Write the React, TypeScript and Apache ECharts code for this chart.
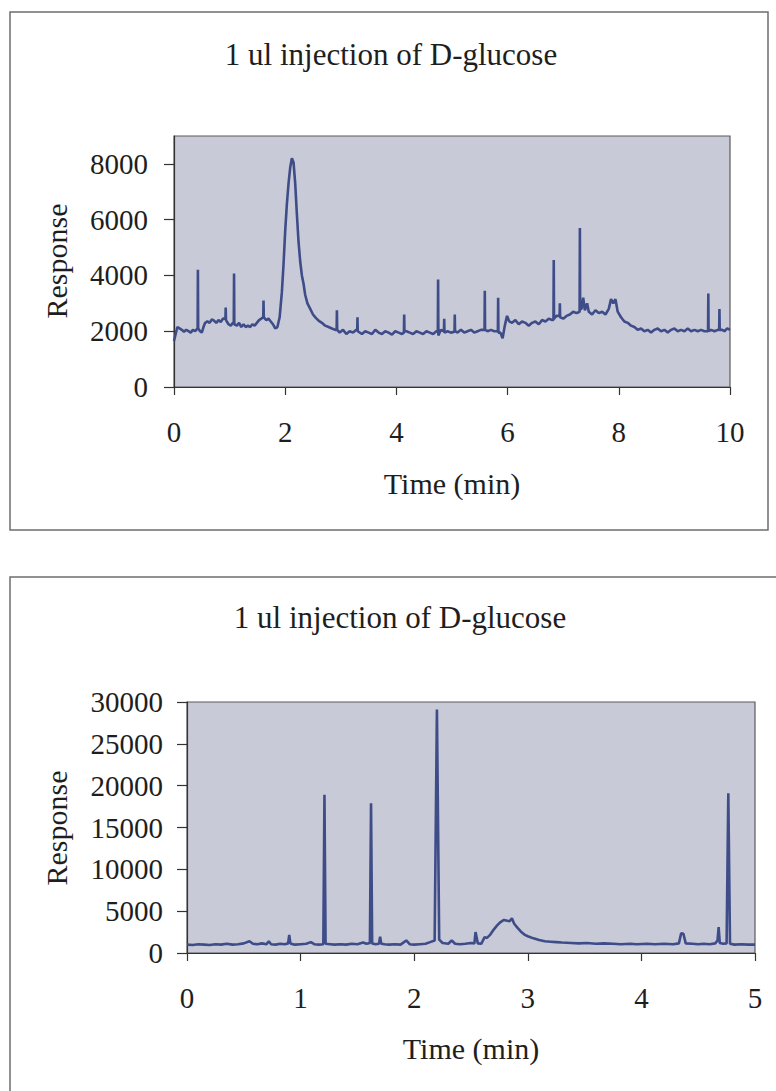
import React, { useEffect, useRef } from "react";
import * as echarts from "echarts";

// ---------- Data ----------
const chartTitle = "1 ul injection of D-glucose";
const xAxisName = "Time (min)";
const yAxisName = "Response";

// Top chart: 0–10 min
const topTicksX = [0, 2, 4, 6, 8, 10];
const topTicksY = [0, 2000, 4000, 6000, 8000];
const topTime = [
  0.0, 0.03, 0.06, 0.1, 0.14, 0.18, 0.22, 0.26, 0.3, 0.34, 0.38, 0.425, 0.43, 0.435, 0.47, 0.5, 0.53, 0.56, 0.6, 0.64,
  0.68, 0.72, 0.76, 0.8, 0.84, 0.88, 0.925, 0.93, 0.935, 0.98, 1.02, 1.06, 1.075, 1.08, 1.085, 1.13, 1.17, 1.21, 1.25, 1.29,
  1.33, 1.37, 1.41, 1.45, 1.49, 1.53, 1.57, 1.605, 1.61, 1.615, 1.66, 1.7, 1.74, 1.78, 1.82, 1.86, 1.9, 1.94, 1.97, 2.0,
  2.03, 2.06, 2.09, 2.12, 2.15, 2.18, 2.21, 2.24, 2.27, 2.3, 2.33, 2.36, 2.4, 2.45, 2.5, 2.55, 2.6, 2.66, 2.72, 2.78,
  2.84, 2.9, 2.925, 2.93, 2.935, 2.98, 3.04, 3.1, 3.16, 3.22, 3.28, 3.295, 3.3, 3.305, 3.38, 3.44, 3.5, 3.56, 3.62, 3.68,
  3.74, 3.8, 3.86, 3.92, 3.98, 4.04, 4.1, 4.135, 4.14, 4.145, 4.18, 4.24, 4.3, 4.36, 4.42, 4.48, 4.54, 4.6, 4.66, 4.72,
  4.745, 4.75, 4.755, 4.8, 4.855, 4.86, 4.865, 4.92, 4.98, 5.045, 5.05, 5.055, 5.1, 5.16, 5.22, 5.28, 5.34, 5.4, 5.46, 5.52,
  5.585, 5.59, 5.595, 5.64, 5.7, 5.76, 5.825, 5.83, 5.835, 5.87, 5.91, 5.95, 5.99, 6.03, 6.08, 6.14, 6.2, 6.26, 6.32, 6.38,
  6.44, 6.5, 6.56, 6.62, 6.68, 6.74, 6.8, 6.825, 6.83, 6.835, 6.88, 6.935, 6.94, 6.945, 7.0, 7.06, 7.12, 7.18, 7.24, 7.295,
  7.3, 7.305, 7.33, 7.36, 7.39, 7.43, 7.46, 7.52, 7.58, 7.64, 7.7, 7.76, 7.82, 7.86, 7.9, 7.94, 7.98, 8.04, 8.1, 8.16,
  8.22, 8.28, 8.34, 8.4, 8.46, 8.52, 8.58, 8.64, 8.7, 8.76, 8.82, 8.88, 8.94, 9.0, 9.06, 9.12, 9.18, 9.24, 9.3, 9.36,
  9.42, 9.48, 9.54, 9.605, 9.61, 9.615, 9.66, 9.72, 9.78, 9.805, 9.81, 9.815, 9.86, 9.9, 9.95, 10.0,
];
const topResponse = [
  1650, 1900, 2150, 2100, 2050, 1980, 2050, 2000, 1950, 2050, 2000, 2100, 4200, 2100, 2000, 1950, 2150, 2300, 2350, 2300,
  2420, 2380, 2300, 2400, 2330, 2450, 2450, 2850, 2400, 2250, 2200, 2300, 2300, 4070, 2250, 2200, 2300, 2150, 2250, 2150,
  2200, 2150, 2250, 2200, 2300, 2400, 2450, 2500, 3100, 2500, 2400, 2450, 2350, 2250, 2100, 2150, 2500, 3400, 4400, 5600,
  6560, 7300, 7870, 8200, 8050, 7300, 6200, 5200, 4500, 4000, 3700, 3300, 3000, 2800, 2600, 2480, 2380, 2300, 2200, 2150,
  2100, 2050, 2050, 2750, 2050, 1950, 2050, 1900, 2000, 1950, 2050, 2050, 2500, 2000, 1900, 2000, 1950, 1900, 2050, 1950,
  1900, 2000, 1950, 1880, 2000, 1950, 1900, 1950, 2600, 2000, 2000, 1950, 1900, 2000, 1950, 1900, 2000, 1950, 1900, 2000,
  2000, 3850, 1850, 2050, 2000, 2450, 1950, 2000, 1950, 1980, 2600, 2000, 1950, 2050, 1950, 2000, 2050, 1950, 2000, 2050,
  2050, 3450, 2050, 2000, 2050, 2000, 2000, 3200, 1950, 1950, 1750, 2200, 2550, 2350, 2300, 2400, 2250, 2350, 2300, 2200,
  2300, 2350, 2250, 2400, 2350, 2450, 2400, 2400, 4550, 2450, 2550, 2550, 3000, 2500, 2450, 2550, 2600, 2700, 2650, 2700,
  5700, 2800, 2800, 3200, 2750, 3000, 2700, 2600, 2750, 2650, 2700, 2600, 2800, 3150, 3000, 3150, 2700, 2500, 2350, 2300,
  2200, 2150, 2050, 2100, 2000, 2050, 1950, 2050, 2100, 2000, 2050, 1950, 2050, 2100, 2000, 2050, 2000, 2100, 2000, 2050,
  2000, 2050, 2000, 2000, 3350, 2000, 2050, 2000, 2050, 2050, 2800, 2050, 2050, 2000, 2100, 2050,
];

// Bottom chart: 0–5 min
const bottomTicksY = [0, 5000, 10000, 15000, 20000, 25000, 30000];
const bottomTime = [
  0.0, 0.05, 0.1, 0.15, 0.2, 0.25, 0.3, 0.35, 0.4, 0.45, 0.5, 0.55, 0.58, 0.62, 0.66, 0.7, 0.72, 0.74, 0.78, 0.82,
  0.86, 0.89, 0.9, 0.91, 0.95, 1.0, 1.05, 1.09, 1.12, 1.16, 1.2, 1.21, 1.22, 1.26, 1.3, 1.35, 1.4, 1.45, 1.5, 1.55,
  1.58, 1.61, 1.62, 1.63, 1.66, 1.69, 1.7, 1.71, 1.74, 1.78, 1.83, 1.88, 1.93, 1.96, 2.0, 2.05, 2.1, 2.14, 2.18, 2.2,
  2.22, 2.25, 2.3, 2.33, 2.36, 2.4, 2.45, 2.5, 2.53, 2.54, 2.56, 2.59, 2.62, 2.64, 2.67, 2.7, 2.73, 2.76, 2.79, 2.82,
  2.84, 2.86, 2.88, 2.91, 2.94, 2.97, 3.0, 3.05, 3.1, 3.15, 3.2, 3.25, 3.3, 3.38, 3.45, 3.52, 3.6, 3.67, 3.75, 3.82,
  3.9, 3.96, 4.05, 4.12, 4.2, 4.28, 4.33, 4.35, 4.37, 4.39, 4.45, 4.5, 4.55, 4.6, 4.65, 4.67, 4.68, 4.69, 4.72, 4.75,
  4.765, 4.78, 4.82, 4.88, 4.94, 5.0,
];
const bottomResponse = [
  1000, 950, 1050, 1000, 950, 1050, 1000, 1100, 1000, 1050, 1150, 1400, 1100, 1050, 1150, 1050, 1400, 1050, 1000, 1100,
  1050, 1150, 2150, 1150, 1000, 1050, 1100, 1300, 1050, 1000, 1050, 18900, 1100, 1050, 1000, 1050, 1000, 1100, 1050, 1250,
  1100, 1200, 17900, 1150, 1050, 1100, 1950, 1100, 1050, 1000, 1050, 1000, 1500, 1050, 1000, 1050, 1100, 1300, 1500, 29100,
  1600, 1200, 1100, 1500, 1100, 1050, 1100, 1200, 1150, 2500, 1150, 1100, 1900, 1800, 2200, 2800, 3300, 3700, 3950, 3850,
  3800, 4150, 3500, 3000, 2550, 2200, 2000, 1750, 1550, 1400, 1350, 1300, 1250, 1200, 1150, 1200, 1100, 1150, 1100, 1050,
  1100, 1050, 1100, 1050, 1100, 1050, 1150, 2350, 2300, 1150, 1100, 1050, 1100, 1050, 1150, 1500, 3100, 1200, 1100, 1150,
  19100, 1100, 1000, 1050, 1000, 1000,
];

const zip = (xs: number[], ys: number[]) => xs.map((x, i) => [x, ys[i]]);

const FONT = "'Liberation Serif', 'Times New Roman', serif";
const TEXT = "#1e1e1e";
const PLOT_BG = "#c9cad8";
const LINE = "#3e4c88";
const plain = (v: number) => String(v);

export default function App() {
  const ref = useRef<HTMLDivElement>(null);

  useEffect(() => {
    if (!ref.current) return;
    const chart = echarts.init(ref.current, undefined, { renderer: "svg" });

    const axisCommon = {
      axisLine: { show: true, lineStyle: { color: "#333", width: 1.2 } },
      axisTick: { show: true, inside: false, length: 8, lineStyle: { color: "#333", width: 1.2 } },
      splitLine: { show: false },
      axisLabel: { color: TEXT, fontFamily: FONT, fontSize: 29, formatter: plain },
    };

    chart.setOption({
      animation: false,
      backgroundColor: "#ffffff",
      graphic: [
        { type: "rect", shape: { x: 10, y: 12, width: 758, height: 518 }, style: { fill: "none", stroke: "#6e6e6e", lineWidth: 1.5 }, z: -1 },
        { type: "rect", shape: { x: 10, y: 577, width: 780, height: 600 }, style: { fill: "none", stroke: "#6e6e6e", lineWidth: 1.5 }, z: -1 },
        { type: "text", x: 391, y: 54, style: { text: chartTitle, fill: TEXT, font: `31px ${FONT}`, align: "center", verticalAlign: "middle" } },
        { type: "text", x: 400, y: 617, style: { text: chartTitle, fill: TEXT, font: `31px ${FONT}`, align: "center", verticalAlign: "middle" } },
        { type: "text", x: 56, y: 261, rotation: Math.PI / 2, style: { text: yAxisName, fill: TEXT, font: `30px ${FONT}`, align: "center", verticalAlign: "middle" } },
        { type: "text", x: 56, y: 828, rotation: Math.PI / 2, style: { text: yAxisName, fill: TEXT, font: `30px ${FONT}`, align: "center", verticalAlign: "middle" } },
        { type: "text", x: 452, y: 483, style: { text: xAxisName, fill: TEXT, font: `30px ${FONT}`, align: "center", verticalAlign: "middle" } },
        { type: "text", x: 471, y: 1048, style: { text: xAxisName, fill: TEXT, font: `30px ${FONT}`, align: "center", verticalAlign: "middle" } },
      ],
      grid: [
        { left: 174, top: 136, width: 556, height: 251, show: true, backgroundColor: PLOT_BG, borderColor: "#5a5a5a", borderWidth: 1.2 },
        { left: 187, top: 702, width: 568, height: 251, show: true, backgroundColor: PLOT_BG, borderColor: "#5a5a5a", borderWidth: 1.2 },
      ],
      xAxis: [
        {
          ...axisCommon,
          type: "value",
          gridIndex: 0,
          min: 0,
          max: 10,
          interval: 2,
          axisLabel: { ...axisCommon.axisLabel, margin: 30, customValues: topTicksX },
        },
        {
          ...axisCommon,
          type: "value",
          gridIndex: 1,
          min: 0,
          max: 5,
          interval: 1,
          axisLabel: { ...axisCommon.axisLabel, margin: 30 },
        },
      ],
      yAxis: [
        {
          ...axisCommon,
          type: "value",
          gridIndex: 0,
          min: 0,
          max: 9000,
          axisTick: { ...axisCommon.axisTick, length: 10, customValues: topTicksY },
          axisLabel: { ...axisCommon.axisLabel, margin: 26, customValues: topTicksY },
        },
        {
          ...axisCommon,
          type: "value",
          gridIndex: 1,
          min: 0,
          max: 30000,
          interval: 5000,
          axisTick: { ...axisCommon.axisTick, length: 10, customValues: bottomTicksY },
          axisLabel: { ...axisCommon.axisLabel, margin: 24, customValues: bottomTicksY },
        },
      ],
      series: [
        {
          type: "line",
          xAxisIndex: 0,
          yAxisIndex: 0,
          data: zip(topTime, topResponse),
          showSymbol: false,
          lineStyle: { color: LINE, width: 2.6 },
        },
        {
          type: "line",
          xAxisIndex: 1,
          yAxisIndex: 1,
          data: zip(bottomTime, bottomResponse),
          showSymbol: false,
          lineStyle: { color: LINE, width: 2.6 },
        },
      ],
    });

    return () => chart.dispose();
  }, []);

  return (
    <div
      ref={ref}
      style={{ position: "absolute", left: 0, top: 0, width: 776, height: 1091, background: "#fff" }}
    />
  );
}
